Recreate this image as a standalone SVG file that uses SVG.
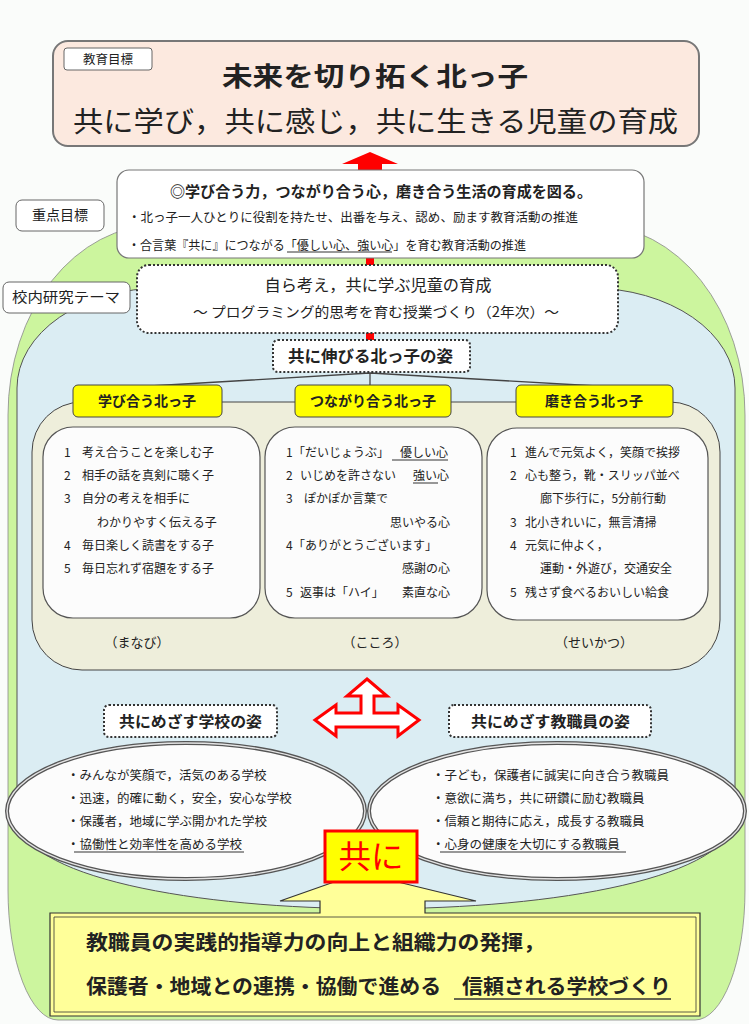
<svg xmlns="http://www.w3.org/2000/svg" width="749" height="1024" viewBox="0 0 749 1024">
<style>
text{font-family:'Noto Sans CJK JP','Noto Sans CJK SC',sans-serif;fill:#222}
.b{font-weight:bold}
.t12{font-size:12px}
.t125{font-size:12.5px}
.lbl{fill:#fff;stroke:#666;stroke-width:1}
.dot{fill:#fff;stroke:#333;stroke-width:2;stroke-dasharray:2 2}
.wb{fill:#fcfcfc;stroke:#555;stroke-width:1.2}
.yl{fill:#ffff00;stroke:#444;stroke-width:1}
.ul{stroke:#333;stroke-width:1}
.red{fill:#ff0000}
.conn{stroke:#444;stroke-width:1.3;fill:none}
</style>
<rect width="749" height="1024" fill="#fafcfa"/>
<g id="background">
<path d="M8,415 A150,190 0 0 1 158,225 H595 A150,190 0 0 1 745,415 V890 A50,130 0 0 1 695,1020 H58 A50,130 0 0 1 8,890 Z" fill="#ccf59e" stroke="#888" stroke-width="0.8"/>
<path d="M17,388 A145,100 0 0 1 162,288 H590 A145,100 0 0 1 735,388 V815 C735,940 17,940 17,815 Z" fill="#dbedf3" stroke="#555" stroke-width="1"/>
<rect x="32" y="402" width="688" height="268" rx="50" fill="#eeeedb" stroke="#444" stroke-width="1"/>
</g>
<g id="connectors">
<polygon class="red" points="370,152 398,164 382,164 382,171 358,171 358,164 342,164"/>
<rect class="red" x="366" y="257" width="8" height="9"/>
<rect class="red" x="366" y="332" width="8" height="9"/>
<path class="conn" d="M370,373 L150,386 M370,373 V386 M370,373 L597,386"/>
<polygon points="367,679 387,696 374,696 374,713 398,713 398,705 419,720 398,736 398,727 336,727 336,736 315,720 336,705 336,713 361,713 361,696 347,696" fill="#fff" stroke="#f00" stroke-width="3" stroke-linejoin="miter"/>
</g>
<g id="goal">
<rect x="53" y="41" width="646" height="105" rx="15" fill="#fce9df" stroke="#777" stroke-width="2"/>
<rect x="64" y="48" width="88" height="22" rx="3" class="lbl" stroke="#555"/>
<text x="108" y="63.5" text-anchor="middle" style="font-size:12.5px">教育目標</text>
<text x="222" y="86" class="b" style="font-size:26px" textLength="306" lengthAdjust="spacingAndGlyphs">未来を切り拓く北っ子</text>
<text x="73" y="132" style="font-size:28px" textLength="605" lengthAdjust="spacingAndGlyphs">共に学び，共に感じ，共に生きる児童の育成</text>
</g>
<g id="priority">
<rect x="117" y="170" width="527" height="88" rx="12" fill="#fff" stroke="#777" stroke-width="1.2"/>
<text x="170" y="197" class="b" style="font-size:15px" textLength="422" lengthAdjust="spacingAndGlyphs">◎学び合う力，つながり合う心，磨き合う生活の育成を図る。</text>
<text x="128" y="221.5" class="t125" textLength="450" lengthAdjust="spacingAndGlyphs">・北っ子一人ひとりに役割を持たせ、出番を与え、認め、励ます教育活動の推進</text>
<text x="128" y="249.5" class="t125" textLength="398" lengthAdjust="spacingAndGlyphs">・合言葉『共に』につながる「優しい心、強い心」を育む教育活動の推進</text>
<line class="ul" x1="287" y1="252" x2="392" y2="252"/>
</g>
<g id="label-priority">
<rect x="16" y="200" width="88" height="31" rx="6" class="lbl"/>
<text x="60" y="220" text-anchor="middle" style="font-size:14px">重点目標</text>
</g>
<g id="theme">
<rect x="137" y="265" width="481" height="68" rx="12" class="dot"/>
<text x="378" y="291" text-anchor="middle" style="font-size:16px" textLength="227" lengthAdjust="spacingAndGlyphs">自ら考え，共に学ぶ児童の育成</text>
<text x="193" y="317" style="font-size:14px" textLength="366" lengthAdjust="spacingAndGlyphs">～ プログラミング的思考を育む授業づくり（2年次）～</text>
</g>
<g id="label-theme">
<rect x="3" y="282" width="127" height="31" rx="6" class="lbl"/>
<text x="12" y="302" style="font-size:14px" textLength="108" lengthAdjust="spacingAndGlyphs">校内研究テーマ</text>
</g>
<g id="growth">
<rect x="273" y="340" width="197" height="32" rx="5" class="dot"/>
<text x="288" y="362" class="b" style="font-size:16px" textLength="165" lengthAdjust="spacingAndGlyphs">共に伸びる北っ子の姿</text>
</g>
<g id="manabi">
<rect x="73" y="385" width="149" height="32" rx="5" class="yl"/>
<text x="147" y="406" text-anchor="middle" class="b" style="font-size:14px">学び合う北っ子</text>
<rect x="43" y="427" width="217" height="191" rx="30" class="wb"/>
<g class="t12">
<text x="64" y="456.5">1</text><text x="82" y="456.5">考え合うことを楽しむ子</text>
<text x="64" y="479.5">2</text><text x="82" y="479.5">相手の話を真剣に聴く子</text>
<text x="64" y="502.5">3</text><text x="82" y="502.5">自分の考えを相手に</text>
<text x="97" y="526.5">わかりやすく伝える子</text>
<text x="64" y="549.5">4</text><text x="82" y="549.5">毎日楽しく読書をする子</text>
<text x="64" y="572.5">5</text><text x="82" y="572.5">毎日忘れず宿題をする子</text>
</g>
<text x="137" y="647" text-anchor="middle" style="font-size:13px">（まなび）</text>
</g>
<g id="kokoro">
<rect x="295" y="385" width="156" height="32" rx="5" class="yl"/>
<text x="373" y="406" text-anchor="middle" class="b" style="font-size:14px">つながり合う北っ子</text>
<rect x="265" y="427" width="217" height="191" rx="30" class="wb"/>
<g class="t12">
<text x="286" y="456.5">1</text><text x="293" y="456.5">「だいじょうぶ」</text><text x="400" y="456.5">優しい心</text>
<text x="286" y="479.5">2</text><text x="300" y="479.5">いじめを許さない</text><text x="413" y="479.5">強い心</text>
<text x="286" y="502.5">3</text><text x="304" y="502.5">ぽかぽか言葉で</text>
<text x="450" y="526.5" text-anchor="end">思いやる心</text>
<text x="286" y="549.5">4</text><text x="293" y="549.5">「ありがとうございます」</text>
<text x="450" y="572.5" text-anchor="end">感謝の心</text>
<text x="286" y="596.5">5</text><text x="300" y="596.5">返事は「ハイ」</text><text x="402" y="596.5">素直な心</text>
</g>
<line class="ul" x1="392" y1="460" x2="448" y2="460"/>
<line class="ul" x1="413" y1="483" x2="438" y2="483"/>
<text x="375" y="647" text-anchor="middle" style="font-size:13px">（こころ）</text>
</g>
<g id="seikatsu">
<rect x="516" y="385" width="157" height="32" rx="5" class="yl"/>
<text x="594" y="406" text-anchor="middle" class="b" style="font-size:14px">磨き合う北っ子</text>
<rect x="487" y="428" width="221" height="192" rx="30" class="wb"/>
<g class="t12">
<text x="510" y="456.5">1</text><text x="525" y="456.5">進んで元気よく，笑顔で挨拶</text>
<text x="510" y="479.5">2</text><text x="525" y="479.5">心も整う，靴・スリッパ並べ</text>
<text x="540" y="502.5">廊下歩行に，5分前行動</text>
<text x="510" y="526.5">3</text><text x="525" y="526.5">北小きれいに，無言清掃</text>
<text x="510" y="549.5">4</text><text x="525" y="549.5">元気に仲よく，</text>
<text x="540" y="572.5">運動・外遊び，交通安全</text>
<text x="510" y="596.5">5</text><text x="525" y="596.5">残さず食べるおいしい給食</text>
</g>
<text x="594" y="647" text-anchor="middle" style="font-size:13px">（せいかつ）</text>
</g>
<g id="school">
<ellipse cx="186" cy="811" rx="179" ry="68" fill="#fcfcfc"/>
</g>
<g id="staff">
<ellipse cx="557" cy="811" rx="188" ry="68" fill="#fcfcfc"/>
</g>
<g id="ellipse-outlines" fill="none">
<ellipse cx="186" cy="811" rx="179" ry="68" stroke="#555" stroke-width="4"/>
<ellipse cx="186" cy="811" rx="179" ry="68" stroke="#e4e4e4" stroke-width="1.4"/>
<ellipse cx="557" cy="811" rx="188" ry="68" stroke="#555" stroke-width="4"/>
<ellipse cx="557" cy="811" rx="188" ry="68" stroke="#e4e4e4" stroke-width="1.4"/>
</g>
<g id="school-text" class="t125">
<text x="67" y="779.5">・みんなが笑顔で，活気のある学校</text>
<text x="67" y="802.5">・迅速，的確に動く，安全，安心な学校</text>
<text x="67" y="825.5">・保護者，地域に学ぶ開かれた学校</text>
<text x="67" y="848.5">・協働性と効率性を高める学校</text>
<line class="ul" x1="74" y1="852" x2="244" y2="852"/>
</g>
<g id="staff-text" class="t125">
<text x="432" y="779.5">・子ども，保護者に誠実に向き合う教職員</text>
<text x="432" y="802.5">・意欲に満ち，共に研鑽に励む教職員</text>
<text x="432" y="825.5">・信頼と期待に応え，成長する教職員</text>
<text x="432" y="848.5">・心身の健康を大切にする教職員</text>
<line class="ul" x1="440" y1="852" x2="626" y2="852"/>
</g>
<g id="school-title">
<rect x="104" y="705" width="173" height="32" rx="5" class="dot"/>
<text x="119" y="727" class="b" style="font-size:15px" textLength="143" lengthAdjust="spacingAndGlyphs">共にめざす学校の姿</text>
</g>
<g id="staff-title">
<rect x="449" y="705" width="202" height="32" rx="5" class="dot"/>
<text x="471" y="727" class="b" style="font-size:15px" textLength="159" lengthAdjust="spacingAndGlyphs">共にめざす教職員の姿</text>
</g>
<g id="summary">
<path d="M50,913 H320 V901 H280 L334,882 H398 L476,901 H425 V913 H700 V1016 H50 Z" fill="#ffff99" stroke="#333" stroke-width="1.2"/>
<path d="M54,917 H696 V1012 H54 Z" fill="none" stroke="#333" stroke-width="0.8"/>
<text x="86" y="950" class="b" style="font-size:20px" textLength="459" lengthAdjust="spacingAndGlyphs">教職員の実践的指導力の向上と組織力の発揮，</text>
<text x="86" y="994" class="b" style="font-size:20px" textLength="585" lengthAdjust="spacingAndGlyphs">保護者・地域との連携・協働で進める　信頼される学校づくり</text>
<line x1="454" y1="999" x2="671" y2="999" stroke="#333" stroke-width="1.5"/>
</g>
<g id="tomoni">
<rect x="325" y="831" width="92" height="51" fill="#ffff00" stroke="#f00" stroke-width="3"/>
<text x="371" y="868" text-anchor="middle" style="font-size:32px;fill:#f00" textLength="65" lengthAdjust="spacingAndGlyphs">共に</text>
</g>
</svg>
